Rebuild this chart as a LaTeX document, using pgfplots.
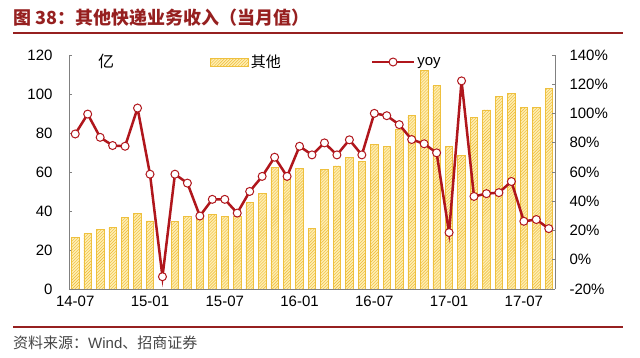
\documentclass[border=0pt]{standalone}
\usepackage{fontspec}
\setmainfont{Liberation Sans}
\newfontfamily\cjk{Noto Sans CJK SC}
\usepackage{pgfplots}
\pgfplotsset{compat=1.18}
\usetikzlibrary{patterns}
\definecolor{barfill}{RGB}{255,238,178}
\definecolor{baredge}{RGB}{238,192,62}
\definecolor{hatch}{RGB}{236,186,52}
\definecolor{yoyred}{RGB}{176,22,28}
\definecolor{titlered}{RGB}{150,32,32}
\definecolor{axgray}{RGB}{128,128,128}
\pgfplotstableread{
x y
0 26.5
1 28.5
2 30.6
3 31.4
4 36.7
5 38.8
6 34.9
8 34.5
9 37.1
10 37.3
11 38.3
12 37.4
13 37.4
14 44.3
15 49.1
16 62.4
17 57.0
18 61.9
19 31.1
20 61.5
21 63.1
22 67.5
23 65.6
24 74.2
25 73.3
26 82.1
27 88.9
28 112.3
29 104.3
30 73.0
31 68.7
32 88.0
33 91.8
34 98.6
35 100.3
36 93.2
37 93.2
38 102.9
}\bars
\pgfplotstableread{
x y
0 86.0
1 99.6
2 83.7
3 78.1
4 77.6
5 103.7
6 58.5
7 -11.6
8 58.5
9 52.4
10 29.9
11 41.3
12 41.3
13 31.9
14 46.7
15 57.0
16 70.1
17 57.0
18 77.6
19 71.7
20 79.9
21 71.7
22 82.0
23 71.7
24 100.1
25 98.5
26 92.4
27 82.2
28 79.3
29 73.1
30 18.6
31 122.3
32 43.3
33 45.2
34 45.9
35 53.5
36 26.3
37 27.5
38 21.3
}\yoy
\pgfplotsset{
  common/.style={
    at={(69bp,69bp)}, anchor=south west,
    scale only axis, width=486bp, height=234bp,
    xmin=-0.5, xmax=38.5,
    tick align=inside,
    axis line style={axgray, line width=0.8bp},
    major tick style={axgray, line width=0.8bp},
    major tick length=3bp,
    tick label style={font=\fontsize{15bp}{18bp}\selectfont, black},
    /pgf/number format/assume math mode=true,
  },
}
\begin{document}
\begin{tikzpicture}
\useasboundingbox (0,0) rectangle (640bp,358bp);
\fill[white] (0,0) rectangle (640bp,358bp);
\node[anchor=base west, inner sep=0pt, text=titlered, font=\cjk\bfseries\fontsize{18bp}{20bp}\selectfont] at (13bp,333bp) {图 38：其他快递业务收入（当月值）};
\draw[titlered, line width=2bp] (13bp,325bp) -- (623bp,325bp);
\draw[titlered, line width=2bp] (13bp,31bp) -- (623bp,31bp);
\node[anchor=west, inner sep=0pt, text={rgb,255:red,70;green,70;blue,70}, font=\fontsize{15bp}{18bp}\selectfont] at (13bp,15bp) {{\cjk 资料来源：}Wind{\cjk 、招商证券}};
\node[inner sep=0pt, font=\cjk\fontsize{16bp}{18bp}\selectfont] at (106bp,297bp) {亿};
\begin{axis}[common,
  axis x line*=bottom, axis y line*=left,
  ymin=0, ymax=120, ytick={0,20,...,120},
  yticklabel style={xshift=-13bp},
  xticklabel style={yshift=-4bp},
  xtick={0,6,...,36},
  xticklabels={14-07,15-01,15-07,16-01,16-07,17-01,17-07},
  xtick style={draw=none},
  extra x ticks={5.5,11.5,17.5,23.5,29.5,35.5},
  extra x tick labels={},
  extra x tick style={major tick length=3bp, tick style={axgray, line width=0.8bp}},
]
\addplot[ybar, bar width=7.5bp, draw=baredge, line width=0.7bp, fill=barfill,
  postaction={pattern=north east lines, pattern color=hatch}] table[x=x,y=y] {\bars};
\end{axis}
\begin{axis}[common,
  axis x line=none, axis y line*=right,
  ymin=-20, ymax=140, ytick={-20,0,...,140},
  yticklabel={\pgfmathprintnumber{\tick}\%},
  yticklabel style={xshift=11bp},
  legend columns=2,
  legend style={at={(0.29,0.97)}, anchor=west, draw=none, fill=none, inner sep=0pt,
    font=\fontsize{15bp}{18bp}\selectfont,
    /tikz/every even column/.append style={column sep=88bp}},
]
\addlegendimage{legend image code/.code={\draw[draw=baredge, line width=0.7bp, fill=barfill, postaction={pattern=north east lines, pattern color=hatch}] (0bp,-4bp) rectangle (38bp,4bp);}}
\addlegendentry{\cjk 其他}
\addplot[yoyred, line width=2.5bp, mark=*, mark size=4bp,
  mark options={fill=white, draw=yoyred, line width=1bp},
  legend image code/.code={\draw[yoyred, line width=2.5bp, mark=*, mark size=4bp, mark options={fill=white, draw=yoyred, line width=1bp}, mark repeat=2, mark phase=2] plot coordinates {(0bp,0bp) (21bp,0bp) (42bp,0bp)};}]
  table[x=x,y=y] {\yoy};
\addlegendentry{yoy}
\end{axis}
\end{tikzpicture}
\end{document}
